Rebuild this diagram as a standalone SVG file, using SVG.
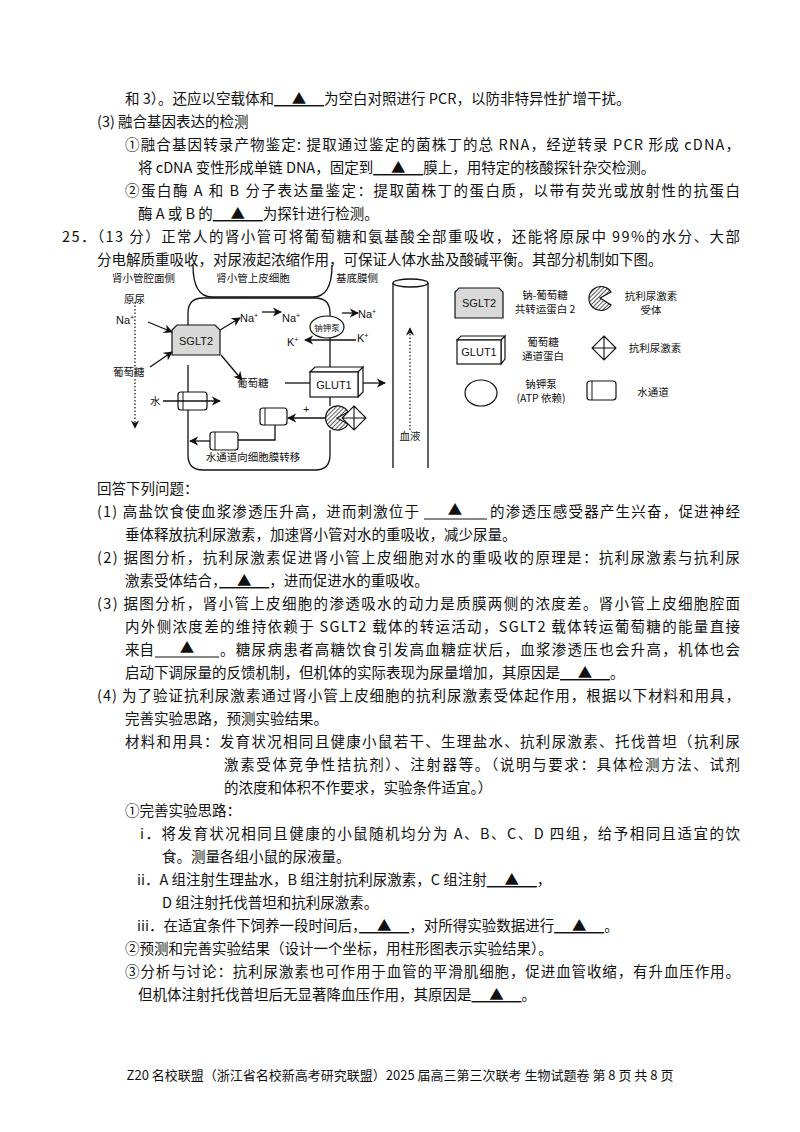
<svg xmlns="http://www.w3.org/2000/svg" width="800" height="1132" viewBox="0 0 800 1132">
<style>
.t{font-family:"Noto Sans CJK SC","Liberation Sans",sans-serif;font-size:14.5px;fill:#111}
.s{font-family:"Noto Sans CJK SC","Liberation Sans",sans-serif;font-size:10.5px;fill:#111}
.b{font-family:"Liberation Sans","Noto Sans CJK SC",sans-serif;font-size:11px;fill:#111}
.u{text-decoration:underline}
.ln{fill:none;stroke:#111;stroke-width:1.3}
.ar{fill:none;stroke:#111;stroke-width:1.3;marker-end:url(#a)}
.dt{fill:none;stroke:#111;stroke-width:1.2;stroke-dasharray:1.5 2;marker-end:url(#a)}
</style>
<defs>
<marker id="a" viewBox="0 0 10 10" refX="9" refY="5" markerWidth="7" markerHeight="7" orient="auto"><path d="M0,0 L10,5 L0,10 L3,5 z" fill="#111"/></marker>
<pattern id="h" width="3" height="3" patternUnits="userSpaceOnUse" patternTransform="rotate(45)"><rect width="3" height="3" fill="#fff"/><line x1="0" y1="0" x2="0" y2="3" stroke="#111" stroke-width="1.4"/></pattern>
</defs>
<rect width="800" height="1132" fill="#fff"/>
<g id="text">
<text class="t" x="125" y="104">和 3）。还应以空载体和<tspan class="u">　 ▲ 　</tspan>为空白对照进行 PCR，以防非特异性扩增干扰。</text>
<text class="t" x="97" y="127">(3) 融合基因表达的检测</text>
<text class="t" x="125" y="150" textLength="615" lengthAdjust="spacing">①融合基因转录产物鉴定: 提取通过鉴定的菌株丁的总 RNA，经逆转录 PCR 形成 cDNA，</text>
<text class="t" x="138" y="173">将 cDNA 变性形成单链 DNA，固定到<tspan class="u">　 ▲ 　</tspan>膜上，用特定的核酸探针杂交检测。</text>
<text class="t" x="125" y="196" textLength="615" lengthAdjust="spacing">②蛋白酶 A 和 B 分子表达量鉴定：提取菌株丁的蛋白质，以带有荧光或放射性的抗蛋白</text>
<text class="t" x="138" y="219">酶 A 或 B 的<tspan class="u">　 ▲ 　</tspan>为探针进行检测。</text>
<text class="t" x="62" y="242" textLength="678" lengthAdjust="spacing">25．（13 分）正常人的肾小管可将葡萄糖和氨基酸全部重吸收，还能将原尿中 99%的水分、大部</text>
<text class="t" x="97" y="265">分电解质重吸收，对尿液起浓缩作用，可保证人体水盐及酸碱平衡。其部分机制如下图。</text>
<text class="t" x="97" y="494">回答下列问题：</text>
<text class="t" x="97" y="517" textLength="322" lengthAdjust="spacing">(1) 高盐饮食使血浆渗透压升高，进而刺激位于</text>
<text class="t" x="455" y="515" text-anchor="middle">▲</text><line x1="424" y1="519" x2="487" y2="519" stroke="#111" stroke-width="1"/>
<text class="t" x="490" y="517" textLength="250" lengthAdjust="spacing">的渗透压感受器产生兴奋，促进神经</text>
<text class="t" x="125" y="540">垂体释放抗利尿激素，加速肾小管对水的重吸收，减少尿量。</text>
<text class="t" x="97" y="563" textLength="643" lengthAdjust="spacing">(2) 据图分析，抗利尿激素促进肾小管上皮细胞对水的重吸收的原理是：抗利尿激素与抗利尿</text>
<text class="t" x="125" y="586">激素受体结合，<tspan class="u">　 ▲ 　</tspan>，进而促进水的重吸收。</text>
<text class="t" x="97" y="609" textLength="643" lengthAdjust="spacing">(3) 据图分析，肾小管上皮细胞的渗透吸水的动力是质膜两侧的浓度差。肾小管上皮细胞腔面</text>
<text class="t" x="125" y="632" textLength="615" lengthAdjust="spacing">内外侧浓度差的维持依赖于 SGLT2 载体的转运活动，SGLT2 载体转运葡萄糖的能量直接</text>
<text class="t" x="125" y="655">来自</text>
<text class="t" x="187" y="653" text-anchor="middle">▲</text><line x1="155" y1="657" x2="219" y2="657" stroke="#111" stroke-width="1"/>
<text class="t" x="220" y="655" textLength="520" lengthAdjust="spacing">。糖尿病患者高糖饮食引发高血糖症状后，血浆渗透压也会升高，机体也会</text>
<text class="t" x="125" y="678">启动下调尿量的反馈机制，但机体的实际表现为尿量增加，其原因是<tspan class="u">　 ▲ 　</tspan>。</text>
<text class="t" x="97" y="701" textLength="643" lengthAdjust="spacing">(4) 为了验证抗利尿激素通过肾小管上皮细胞的抗利尿激素受体起作用，根据以下材料和用具，</text>
<text class="t" x="125" y="724">完善实验思路，预测实验结果。</text>
<text class="t" x="125" y="747" textLength="615" lengthAdjust="spacing">材料和用具：发育状况相同且健康小鼠若干、生理盐水、抗利尿激素、托伐普坦（抗利尿</text>
<text class="t" x="224" y="770" textLength="516" lengthAdjust="spacing">激素受体竞争性拮抗剂）、注射器等。（说明与要求：具体检测方法、试剂</text>
<text class="t" x="224" y="793">的浓度和体积不作要求，实验条件适宜。）</text>
<text class="t" x="125" y="816">①完善实验思路：</text>
<text class="t" x="140" y="839" textLength="600" lengthAdjust="spacing">i．将发育状况相同且健康的小鼠随机均分为 A、B、C、D 四组，给予相同且适宜的饮</text>
<text class="t" x="162" y="862">食。测量各组小鼠的尿液量。</text>
<text class="t" x="137" y="885">ii．A 组注射生理盐水，B 组注射抗利尿激素，C 组注射<tspan class="u">　 ▲ 　</tspan>，</text>
<text class="t" x="162" y="908">D 组注射托伐普坦和抗利尿激素。</text>
<text class="t" x="137" y="931">iii．在适宜条件下饲养一段时间后，<tspan class="u">　 ▲ 　</tspan>，对所得实验数据进行<tspan class="u">　 ▲ 　</tspan>。</text>
<text class="t" x="125" y="954">②预测和完善实验结果（设计一个坐标，用柱形图表示实验结果）。</text>
<text class="t" x="125" y="977" textLength="615" lengthAdjust="spacing">③分析与讨论：抗利尿激素也可作用于血管的平滑肌细胞，促进血管收缩，有升血压作用。</text>
<text class="t" x="138" y="1000">但机体注射托伐普坦后无显著降血压作用，其原因是<tspan class="u">　 ▲ 　</tspan>。</text>
<text class="t" x="400" y="1080" text-anchor="middle" style="font-size:13px">Z20 名校联盟（浙江省名校新高考研究联盟）2025 届高三第三次联考 生物试题卷  第 8 页 共 8 页</text>
</g>
<g id="diagram-labels">
<text class="s" x="112" y="282">肾小管腔面侧</text>
<text class="s" x="253" y="282" text-anchor="middle">肾小管上皮细胞</text>
<text class="s" x="336" y="282">基底膜侧</text>
<text class="s" x="124" y="303">原尿</text>
<text class="b" x="116" y="324">Na<tspan dy="-4" font-size="7">+</tspan></text>
<text class="s" x="113" y="376">葡萄糖</text>
<text class="b" x="240" y="322">Na<tspan dy="-4" font-size="7">+</tspan></text>
<text class="b" x="282" y="322">Na<tspan dy="-4" font-size="7">+</tspan></text>
<text class="b" x="358" y="318">Na<tspan dy="-4" font-size="7">+</tspan></text>
<text class="b" x="357" y="342">K<tspan dy="-4" font-size="7">+</tspan></text>
<text class="b" x="287" y="346">K<tspan dy="-4" font-size="7">+</tspan></text>
<text class="s" x="237" y="387">葡萄糖</text>
<text class="s" x="150" y="405">水</text>
<text class="b" x="303" y="413">+</text>
<text class="s" x="253" y="461" text-anchor="middle">水通道向细胞膜转移</text>
<text class="s" x="410" y="440" text-anchor="middle">血液</text>
</g>
<g id="cell">
<path class="ln" d="M193,265 Q193,297 212,297 L313,297 Q332,297 332,265"/>
<path class="ln" d="M188,355 L188,313 Q188,298 203,298 L315,298 Q330,298 330,313 L330,316"/>
<path class="ln" d="M188,392 L188,365"/>
<path class="ln" d="M188,410 L188,455 Q188,470 203,470 L315,470 Q330,470 330,455 L330,430"/>
<path class="ln" d="M330,338 L330,372"/>
<path class="ln" d="M330,397 L330,406"/>
</g>
<g id="sglt2"><path d="M172,355 L172,330 L177,325 L215,325 L220,330 L220,355 Z" fill="#d9d9d9" stroke="#111" stroke-width="1.2"/><text class="b" x="196" y="345" text-anchor="middle">SGLT2</text></g>
<g id="pump"><ellipse cx="327" cy="327" rx="17" ry="11" fill="#fff" stroke="#111" stroke-width="1.2"/><text class="s" x="327" y="331" text-anchor="middle" style="font-size:8.5px">钠钾泵</text></g>
<g id="glut1"><path d="M310,372 L315,367 L363,367 L358,372 Z M358,372 L363,367 L363,392 L358,397 Z" fill="#fff" stroke="#111" stroke-width="1.2"/><rect x="310" y="372" width="48" height="25" fill="#fff" stroke="#111" stroke-width="1.2"/><text class="b" x="334" y="389" text-anchor="middle">GLUT1</text></g>
<g id="channel1"><rect x="178" y="392" width="29" height="18" rx="3" fill="#fff" stroke="#111" stroke-width="1.2"/><line x1="183" y1="392" x2="183" y2="410" stroke="#111"/></g>
<g id="channel2"><rect x="260" y="408" width="27" height="17" rx="3" fill="#fff" stroke="#111" stroke-width="1.2"/><line x1="265" y1="408" x2="265" y2="425" stroke="#111"/></g>
<g id="channel3"><rect x="210" y="432" width="28" height="18" rx="3" fill="#fff" stroke="#111" stroke-width="1.2"/><line x1="215" y1="432" x2="215" y2="450" stroke="#111"/></g>
<g id="receptor"><path d="M348,412 A12,12 0 1 0 348,424 L337,418 Z" fill="url(#h)" stroke="#111" stroke-width="1.2"/></g>
<g id="adh"><path d="M354,406 L366,418 L354,430 L342,418 Z M342,418 L366,418 M354,406 L354,430" fill="#fff" stroke="#111" stroke-width="1.1"/></g>
<g id="vessel"><path class="ln" d="M393,283 L393,468 M428,283 L428,468"/><ellipse cx="410.5" cy="283" rx="17.5" ry="4" fill="#fff" stroke="#111" stroke-width="1.3"/></g>
<g id="connectors">
<path class="dt" d="M135,302 L135,428"/>
<path class="dt" d="M410,430 L410,328"/>
<path class="ar" d="M148,322 L172,332"/>
<path class="ar" d="M150,367 L172,352"/>
<path class="ar" d="M220,330 L240,318"/>
<path class="ar" d="M262,312 L281,312"/>
<path class="ar" d="M342,313 L358,313"/>
<path class="ar" d="M356,340 L305,340"/>
<path class="ar" d="M221,355 L242,380"/>
<path class="ln" d="M285,383 L310,383"/>
<path class="ar" d="M363,383 L385,383"/>
<path class="ar" d="M163,401 L220,401"/>
<path class="ar" d="M325,418 L288,418"/>
<path class="ln" d="M275,425 L275,440 L238,440"/>
<path class="ar" d="M210,441 L190,441"/>
</g>
<g id="legend">
<path d="M455,318 L455,292 L459,288 L499,288 L503,292 L503,318 Z" fill="#d9d9d9" stroke="#111" stroke-width="1.2"/><text class="b" x="479" y="307" text-anchor="middle">SGLT2</text>
<text class="s" x="545" y="299" text-anchor="middle">钠-葡萄糖</text><text class="s" x="545" y="313" text-anchor="middle">共转运蛋白 2</text>
<path d="M611,292 A12,12 0 1 0 611,305 L600,298 Z" fill="url(#h)" stroke="#111" stroke-width="1.2"/>
<text class="s" x="651" y="300" text-anchor="middle">抗利尿激素</text><text class="s" x="651" y="314" text-anchor="middle">受体</text>
<path d="M457,340 L461,336 L505,336 L501,340 Z M501,340 L505,336 L505,359 L501,364 Z" fill="#fff" stroke="#111" stroke-width="1.2"/><rect x="457" y="340" width="44" height="24" fill="#fff" stroke="#111" stroke-width="1.2"/><text class="b" x="479" y="356" text-anchor="middle">GLUT1</text>
<text class="s" x="543" y="346" text-anchor="middle">葡萄糖</text><text class="s" x="543" y="360" text-anchor="middle">通道蛋白</text>
<path d="M604,336 L616,348 L604,360 L592,348 Z M592,348 L616,348 M604,336 L604,360" fill="#fff" stroke="#111" stroke-width="1.1"/>
<text class="s" x="655" y="352" text-anchor="middle">抗利尿激素</text>
<ellipse cx="481" cy="393" rx="16" ry="13" fill="#fff" stroke="#111" stroke-width="1.2"/>
<text class="s" x="541" y="388" text-anchor="middle">钠钾泵</text><text class="s" x="541" y="402" text-anchor="middle">(ATP 依赖)</text>
<rect x="587" y="381" width="29" height="19" rx="3" fill="#fff" stroke="#111" stroke-width="1.2"/><line x1="592" y1="381" x2="592" y2="400" stroke="#111"/>
<text class="s" x="653" y="396" text-anchor="middle">水通道</text>
</g>
</svg>
